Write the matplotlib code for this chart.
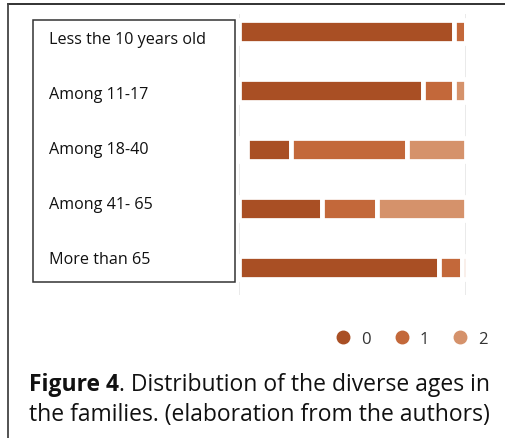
import numpy as np
import matplotlib
matplotlib.use("Agg")
import matplotlib.pyplot as plt
from matplotlib.patches import Rectangle
from matplotlib.lines import Line2D

plt.rcParams['font.family'] = ['Open Sans', 'DejaVu Sans']

# data (share of families, %)
categories = ["Less the 10 years old", "Among 11-17", "Among 18-40", "Among 41- 65", "More than 65"]
series_names = ["0", "1", "2"]
missing = [0.0, 0.0, 3.4, 0.0, 0.0]
val_0 = [94.8, 81.2, 19.3, 36.6, 88.1]
val_1 = [5.2, 13.6, 51.5, 24.1, 10.2]
val_2 = [0.0, 5.2, 25.8, 39.3, 2.2]
colors = ["#A94F24", "#C3683A", "#D5926B"]

W, H = 506, 439
fig = plt.figure(figsize=(W / 100, H / 100), dpi=100)

def fx(px):
    return px / W

def fy(py):
    return 1 - py / H

# outer frame of the screenshot
fig.add_artist(Line2D([fx(8), 1], [fy(5), fy(5)], color="#222222", lw=1.3))
fig.add_artist(Line2D([fx(8), fx(8)], [fy(5), 0], color="#444444", lw=1.3))

ax = fig.add_axes([fx(239), fy(296), fx(466) - fx(239), (296 - 15) / H])
y = np.arange(len(categories))
left = np.array(missing)
ax.barh(y, missing, left=0, height=0.39, color="white", edgecolor="white", linewidth=3.4)
for vals, c, name in zip([val_0, val_1, val_2], colors, series_names):
    ax.barh(y, vals, left=left, height=0.39, color=c, edgecolor="white", linewidth=3.4, label=name, zorder=2)
    left = left + np.array(vals)

ax.set_xlim(0, 100)
ax.set_ylim(len(categories) - 1 + 0.463, -0.297)
ax.set_xticks([0, 100])
ax.grid(axis="x", color="#e6e6e6", lw=1.2, zorder=0)
ax.set_axisbelow(True)
ax.tick_params(left=False, bottom=False, labelleft=False, labelbottom=False)
for s in ax.spines.values():
    s.set_visible(False)

# category labels in a box
fig.add_artist(Rectangle((fx(33), fy(283)), fx(235) - fx(33), (283 - 21) / H,
                         fill=False, edgecolor="#333333", lw=1.1))
for lab, py in zip(categories, np.linspace(40, 260, len(categories))):
    fig.text(fx(49), fy(py), lab, fontsize=11.6, va="center", ha="left", color="#111111")

# legend
handles = [Line2D([], [], marker="o", ls="none", color=c, markersize=9) for c in colors]
fig.legend(handles, series_names, loc="center", bbox_to_anchor=(fx(407), fy(340)), ncol=3,
           frameon=False, fontsize=12, handletextpad=0.05, columnspacing=0.9, labelcolor="#333333")

# caption
fig.canvas.draw()
r = fig.canvas.get_renderer()
t1 = fig.text(fx(29), fy(385), "Figure 4", fontsize=16.5, fontweight="bold", va="center", color="#111111")
bb = t1.get_window_extent(r)
fig.text(bb.x1 / W, fy(385), ". Distribution of the diverse ages in", fontsize=16.5, va="center", color="#111111")
fig.text(fx(29), fy(415), "the families. (elaboration from the authors)", fontsize=16.5, va="center", color="#111111")

fig.savefig("out.png", dpi=100)
